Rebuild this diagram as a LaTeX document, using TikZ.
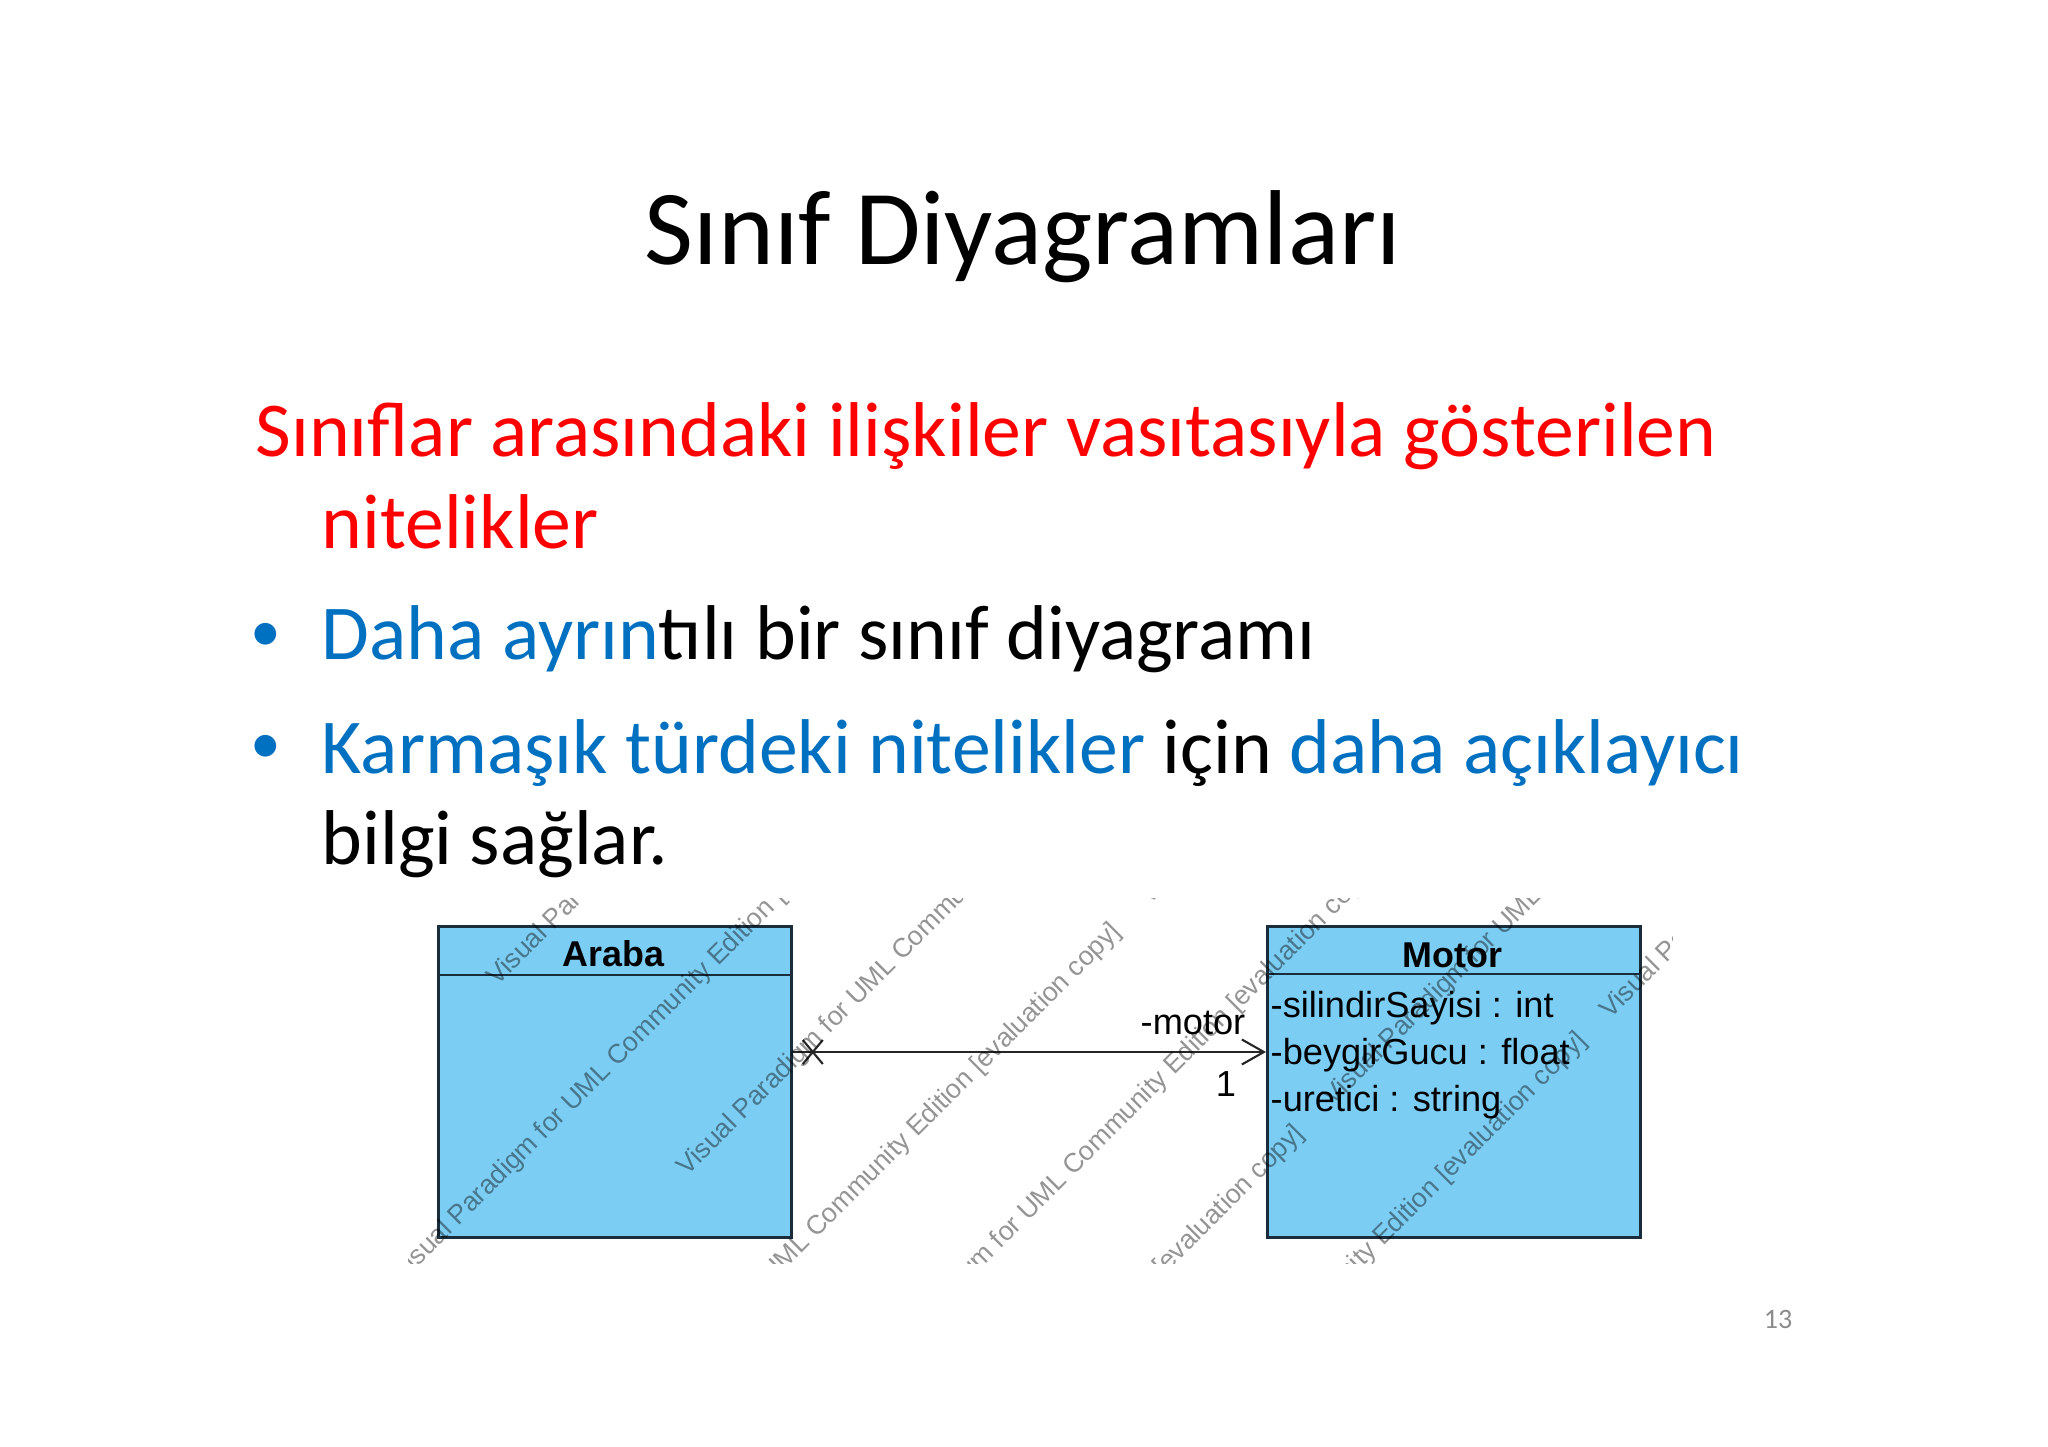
\documentclass[tikz,border=0pt]{standalone}
\usepackage{fontspec}
\setmainfont{Carlito}
\newfontfamily\umlfont{Liberation Sans}
\usetikzlibrary{arrows.meta}
\definecolor{slidered}{RGB}{255,0,0}
\definecolor{slideblue}{RGB}{0,112,192}
\definecolor{classfill}{RGB}{124,205,243}
\definecolor{classline}{RGB}{25,45,60}

\begin{document}
\begin{tikzpicture}[
  slidetext/.style={anchor=base west, inner sep=0, font=\fontsize{22.1}{26}\selectfont},
  bulletmark/.style={anchor=center, inner sep=0, text=slideblue, font=\fontsize{17.5}{20}\selectfont},
  classbox/.style={draw=classline, fill=classfill, line width=0.8pt, inner sep=0, anchor=north west, minimum height=3.11cm},
  classname/.style={anchor=base, inner sep=0, font=\umlfont\bfseries\fontsize{10.2}{12}\selectfont},
  attr/.style={anchor=base west, inner sep=0, font=\umlfont\fontsize{10.3}{12}\selectfont},
  assoc/.style={draw=black!85, line width=0.6pt},
  watermark/.style={rotate=45, anchor=base west, inner sep=0, text=black, text opacity=0.42, font=\umlfont\fontsize{7.6}{9}\selectfont}
]
\useasboundingbox (0,0) rectangle (20.48,-14.47);
\fill[white] (0,0) rectangle (20.48,-14.47);

\node[anchor=base, inner sep=0, font=\fontsize{30.3}{36}\selectfont] (title) at (10.23,-2.65) {Sınıf Diyagramları};

\node[slidetext, text=slidered] (intro) at (2.55,-4.57) {Sınıflar arasındaki ilişkiler vasıtasıyla gösterilen};
\node[slidetext, text=slidered] (introb) at (3.21,-5.49) {nitelikler};
\node[bulletmark] (bulleta) at (2.66,-6.37) {•};
\node[slidetext] (linea) at (3.21,-6.60) {\textcolor{slideblue}{Daha ayrın}tılı bir sınıf diyagramı};
\node[bulletmark] (bulletb) at (2.66,-7.49) {•};
\node[slidetext] (lineb) at (3.21,-7.74) {\textcolor{slideblue}{Karmaşık türdeki nitelikler} için \textcolor{slideblue}{daha açıklayıcı}};
\node[slidetext] (linec) at (3.21,-8.65) {bilgi sağlar.};

\node[classbox, minimum width=3.53cm] (araba) at (4.37,-9.25) {};
\node[classbox, minimum width=3.73cm] (motor) at (12.66,-9.25) {};
\draw[classline, line width=0.8pt] ([yshift=-0.50cm]araba.north west) -- ([yshift=-0.50cm]araba.north east);
\draw[classline, line width=0.8pt] ([yshift=-0.49cm]motor.north west) -- ([yshift=-0.49cm]motor.north east);
\node[classname] (arabaname) at (6.135,-9.67) {Araba};
\node[classname] (motorname) at (14.525,-9.68) {Motor};
\node[attr] (silindir) at (12.70,-10.18) {-silindirSayisi : int};
\node[attr] (beygir) at (12.70,-10.65) {-beygirGucu : float};
\node[attr] (uretici) at (12.70,-11.12) {-uretici : string};

\coordinate (arabaend) at ([yshift=-1.27cm]araba.north east);
\coordinate (motorend) at ([yshift=-1.27cm]motor.north west);
\draw[assoc, -{Straight Barb[length=0.22cm, width=0.25cm]}] (arabaend) -- (motorend);
\coordinate (nonnav) at ([xshift=0.20cm]arabaend);
\draw[assoc] (nonnav) +(-0.1,0.12) -- +(0.1,-0.12) (nonnav) +(-0.1,-0.12) -- +(0.1,0.12);
\node[attr] (rolename) at (11.40,-10.35) {-motor};
\node[attr, anchor=base] (mult) at (12.26,-10.97) {1};

\begin{scope}
\clip (4.08,-8.99) rectangle (16.72,-12.64);
\foreach \wx/\wy [count=\i] in {4.97/9.87, 4.02/12.83, 6.87/11.77, 6.01/14.54, 11.49/9.06,
  8.58/13.92, 7.84/16.56, 13.33/11.07, 10.67/15.63, 16.10/10.20}
  \node[watermark] (wm\i) at (\wx,-\wy) {Visual Paradigm for UML Community Edition [evaluation copy]};
\end{scope}

\node[anchor=base, inner sep=0, text=black!45, font=\fontsize{8}{10}\selectfont] (pagenum) at (17.78,-13.29) {13};
\end{tikzpicture}
\end{document}
